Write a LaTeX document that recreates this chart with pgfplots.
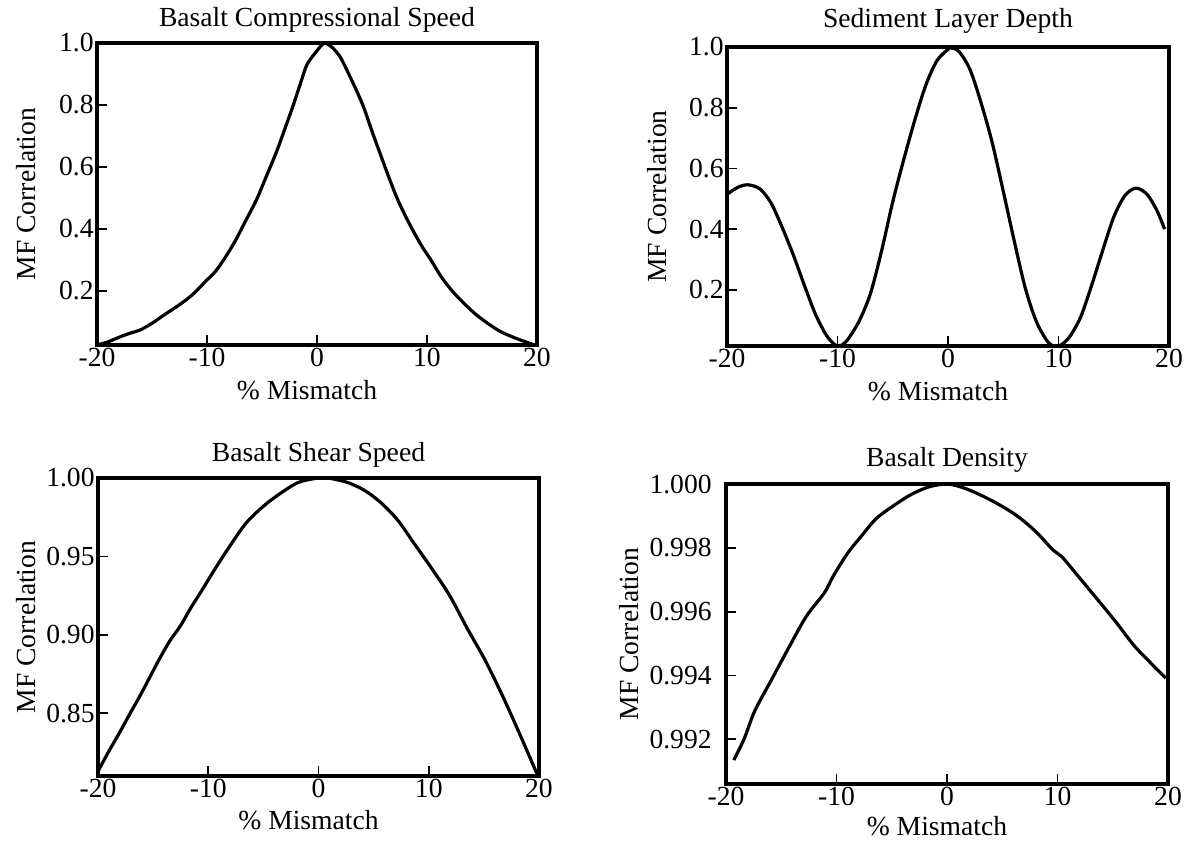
\documentclass[border=0pt]{standalone}
\usepackage{fontspec}
\setmainfont{Liberation Serif}
\usepackage{pgfplots}
\pgfplotsset{compat=1.18}

\pgfplotsset{
  every axis title shift=0pt,
  mfstyle/.style={
    scale only axis,
    xmin=-20, xmax=20,
    xtick={-20,-10,0,10,20},
    xticklabels={-20,-10,0,10,20},
    tick align=inside,
    xtick pos=left, ytick pos=left,
    major tick length=5pt,
    every tick/.style={black, line width=0.9pt},
    axis line style={line width=1.6pt},
    axis on top,
    /pgf/number format/assume math mode=true,
    tick label style={font=\fontsize{13.8}{15}\selectfont, inner sep=1.5pt},
    title style={font=\fontsize{13.8}{15}\selectfont, at={(0.5,1)}, anchor=base, inner sep=0pt},
    xlabel={\% Mismatch},
    ylabel={MF Correlation},
    label style={font=\fontsize{13.8}{16}\selectfont, inner sep=0pt},
    xlabel style={at={(axis description cs:0.5,0)}, anchor=north, yshift=-17.5pt, xshift=-5pt},
  },
  curve/.style={black, line width=1.6pt, smooth, tension=0.5, no markers},
}

\begin{document}
\begin{tikzpicture}
\useasboundingbox (0,0) rectangle (593.5pt,420.5pt);

% Panel 1: Basalt Compressional Speed
\begin{axis}[mfstyle,
  at={(48.5pt,248pt)}, anchor=south west,
  width=220pt, height=151pt,
  ymin=0.025, ymax=1.0,
  ytick={0.2,0.4,0.6,0.8,1.0},
  yticklabels={0.2,0.4,0.6,0.8,1.0},
  title={Basalt Compressional Speed},
  title style={yshift=8pt},
  ylabel style={at={(axis description cs:-0.1386,0.5)}, anchor=south},
]
\addplot[curve] coordinates {
(-20,0.025) (-19,0.035) (-18,0.05) (-17,0.063) (-16.1,0.073) (-15,0.095)
(-13.9,0.122) (-12.5,0.155) (-11.3,0.188) (-10.2,0.228) (-9.2,0.264)
(-8.3,0.31) (-7.4,0.363) (-6.5,0.425) (-5.5,0.494) (-4.6,0.57)
(-3.7,0.647) (-2.9,0.725) (-2.15,0.80) (-1.5,0.87) (-0.9,0.931)
(0,0.975) (0.4,0.992) (0.76,1.0) (1.4,0.985) (2.14,0.953) (3.06,0.887)
(3.7,0.838) (4.28,0.789) (5.0,0.715) (5.81,0.636) (6.6,0.56) (7.34,0.494)
(8.1,0.437) (8.87,0.385) (9.6,0.34) (10.4,0.297) (11.3,0.245) (12.3,0.199)
(13.4,0.158) (14.5,0.122) (15.6,0.093) (16.7,0.068) (18.2,0.045)
(19.8,0.025) (20,0.024)
};
\end{axis}

% Panel 2: Sediment Layer Depth
\begin{axis}[mfstyle,
  at={(363.5pt,247.5pt)}, anchor=south west,
  width=221pt, height=149.5pt,
  ymin=0.015, ymax=1.0,
  ytick={0.2,0.4,0.6,0.8,1.0},
  yticklabels={0.2,0.4,0.6,0.8,1.0},
  title={Sediment Layer Depth},
  title style={yshift=9.5pt},
  ylabel style={at={(axis description cs:-0.1357,0.5)}, anchor=south},
]
\addplot[curve] coordinates {
(-20,0.515) (-19,0.538) (-18.1,0.546) (-17,0.532) (-16,0.485) (-15,0.405)
(-14,0.315) (-13,0.215) (-12,0.12) (-11,0.05) (-10.2,0.018) (-9.6,0.018)
(-9,0.04) (-8,0.10) (-7,0.19) (-6,0.33) (-5,0.49) (-4,0.63) (-3,0.76)
(-2,0.875) (-1,0.955) (0,0.992) (0.3,0.997) (1,0.985) (2,0.925) (3,0.815)
(4,0.685) (5,0.525) (6,0.36) (7,0.205) (8,0.095) (9,0.03) (9.6,0.015)
(10.2,0.018) (11,0.045) (12,0.11) (13,0.215) (14,0.33) (15,0.44)
(16,0.51) (17,0.535) (18,0.515) (18.9,0.462) (19.6,0.40)
};
\end{axis}

% Panel 3: Basalt Shear Speed
\begin{axis}[mfstyle,
  at={(49pt,32.5pt)}, anchor=south west,
  width=220.5pt, height=149pt,
  ymin=0.81, ymax=1.0,
  ytick={0.85,0.90,0.95,1.00},
  yticklabels={0.85,0.90,0.95,1.00},
  title={Basalt Shear Speed},
  title style={yshift=8.5pt},
  xlabel style={xshift=0pt, yshift=0.5pt},
  ylabel style={at={(axis description cs:-0.1406,0.5)}, anchor=south},
]
\addplot[curve] coordinates {
(-20,0.813) (-19,0.826) (-18.1,0.837) (-17,0.851) (-16.2,0.861)
(-15.3,0.873) (-14.4,0.885) (-13.5,0.896) (-12.5,0.906) (-11.6,0.917)
(-10.7,0.927) (-9.3,0.943) (-8.1,0.956) (-6.6,0.971) (-5.0,0.982)
(-3.5,0.990) (-1.9,0.997) (-0.4,0.9996) (0.5,1.0) (1.2,0.9996)
(2.7,0.997) (4.2,0.992) (5.7,0.984) (7.2,0.973) (8.7,0.958) (10.3,0.942)
(11.9,0.925) (13.5,0.904) (15.1,0.884) (16.7,0.861) (18.3,0.836) (19.9,0.81)
};
\end{axis}

% Panel 4: Basalt Density
\begin{axis}[mfstyle,
  at={(363pt,28.5pt)}, anchor=south west,
  width=221pt, height=150pt,
  ymin=0.9906, ymax=1.0,
  ytick={0.992,0.994,0.996,0.998,1.000},
  yticklabels={0.992,0.994,0.996,0.998,1.000},
  yticklabel style={xshift=-5.5pt},
  title={Basalt Density},
  title style={yshift=9pt},
  xlabel style={yshift=1.5pt},
  ylabel style={at={(axis description cs:-0.197,0.5)}, anchor=south},
]
\addplot[curve] coordinates {
(-19.3,0.99135) (-18.35,0.99202) (-17.4,0.99289) (-15.8,0.99392)
(-14.2,0.99495) (-12.7,0.99587) (-11.1,0.99659) (-10.3,0.99711)
(-9.0,0.99783) (-7.7,0.99839) (-6.4,0.99892) (-4.8,0.99933)
(-3.2,0.99968) (-1.55,0.99992) (0.1,1.0) (1.66,0.99986) (3.25,0.99962)
(4.84,0.99933) (6.43,0.99898) (8.03,0.99851) (9.6,0.99793) (10.4,0.99772)
(11.9,0.9971) (13.6,0.99639) (15.3,0.99567) (16.9,0.99495) (18.3,0.99444)
(19.8,0.99392)
};
\end{axis}
\end{tikzpicture}
\end{document}
